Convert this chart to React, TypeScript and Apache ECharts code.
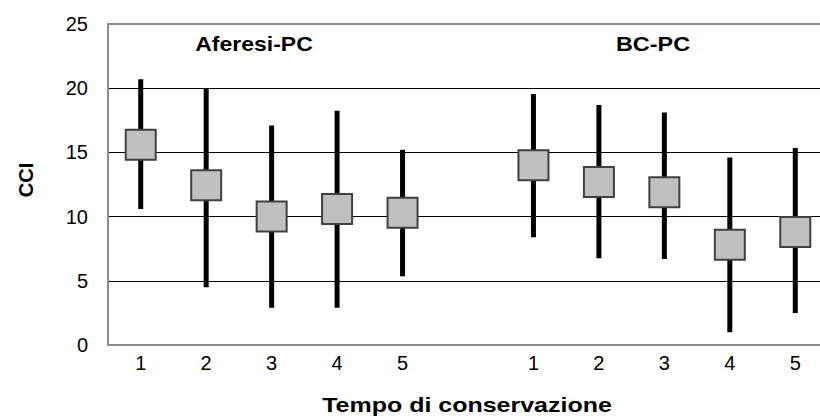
import React, { useEffect, useRef } from "react";
import * as echarts from "echarts";

const categories = ["1", "2", "3", "4", "5", "", "1", "2", "3", "4", "5"];
const meanValues = [15.6, 12.45, 10.0, 10.6, 10.3, null, 14.0, 12.7, 11.9, 7.8, 8.8];
const highValues = [20.7, 20.0, 17.1, 18.25, 15.2, null, 19.55, 18.7, 18.1, 14.6, 15.35];
const lowValues = [10.6, 4.5, 2.9, 2.9, 5.35, null, 8.4, 6.75, 6.7, 1.0, 2.5];
const yTicks = { min: 0, max: 25, interval: 5 };
const groupLabels = ["Aferesi-PC", "BC-PC"];
const xTitle = "Tempo di conservazione";
const yTitle = "CCI";

const FONT = "'Liberation Sans', Arial, sans-serif";

export default function App() {
  const ref = useRef<HTMLDivElement>(null);
  useEffect(() => {
    if (!ref.current) return;
    const chart = echarts.init(ref.current, null, { renderer: "svg" });
    const whiskerData = categories
      .map((_, i) => (lowValues[i] == null ? null : [i, lowValues[i], highValues[i]]))
      .filter((d) => d != null);
    const meanData = meanValues.map((v, i) => (v == null ? null : [i, v])).filter((d) => d != null);
    const titleText = (text: string, x: number, y: number, size: number, sx: number) => ({
      type: "text",
      x,
      y,
      scaleX: sx,
      style: {
        text,
        fontSize: size,
        fontWeight: "bold",
        fill: "#000",
        fontFamily: FONT,
        align: "center",
        verticalAlign: "middle",
      },
    });
    chart.setOption({
      animation: false,
      backgroundColor: "#fff",
      textStyle: { fontFamily: FONT },
      grid: {
        left: 108,
        top: 24,
        width: 720,
        height: 321,
        containLabel: false,
        outerBoundsMode: "none",
      },
      xAxis: [
        {
          type: "category",
          data: categories,
          boundaryGap: true,
          axisLine: { show: true, lineStyle: { color: "#8c8c8c", width: 2 } },
          axisTick: { show: false },
          axisLabel: { interval: 0, color: "#000", fontSize: 20, margin: 8, fontFamily: FONT },
          splitLine: { show: false },
        },
        {
          type: "category",
          data: categories,
          position: "top",
          axisLine: { show: true, lineStyle: { color: "#8c8c8c", width: 2 } },
          axisTick: { show: false },
          axisLabel: { show: false },
          splitLine: { show: false },
        },
      ],
      yAxis: {
        type: "value",
        min: yTicks.min,
        max: yTicks.max,
        interval: yTicks.interval,
        axisLine: { show: true, lineStyle: { color: "#8c8c8c", width: 2 } },
        axisTick: { show: false },
        axisLabel: { color: "#000", fontSize: 20, margin: 20, fontFamily: FONT },
        splitLine: {
          show: true,
          lineStyle: { color: ["#8c8c8c", "#000", "#000", "#000", "#000", "#8c8c8c"], width: 1 },
        },
      },
      graphic: [
        titleText(groupLabels[0], 254, 44, 20, 1.15),
        titleText(groupLabels[1], 653, 44, 20, 1.17),
        titleText(xTitle, 467, 405, 21, 1.19),
        { ...titleText(yTitle, 26, 180, 20, 1), rotation: Math.PI / 2 },
      ],
      series: [
        {
          type: "custom",
          data: whiskerData,
          encode: { x: 0, y: [1, 2] },
          z: 2,
          renderItem: (params: any, api: any) => {
            const x = api.value(0);
            const lo = api.coord([x, api.value(1)]);
            const hi = api.coord([x, api.value(2)]);
            return {
              type: "rect",
              shape: { x: lo[0] - 2.5, y: hi[1], width: 5, height: lo[1] - hi[1] },
              style: { fill: "#000" },
            };
          },
        },
        {
          type: "scatter",
          data: meanData,
          symbol: "rect",
          symbolSize: 30,
          z: 3,
          itemStyle: { color: "#c0c0c0", borderColor: "#404040", borderWidth: 2, opacity: 1 },
        },
      ],
    });
    return () => chart.dispose();
  }, []);
  return (
    <div
      ref={ref}
      style={{ position: "fixed", left: 0, top: 0, width: 830, height: 419, background: "#fff" }}
    />
  );
}
